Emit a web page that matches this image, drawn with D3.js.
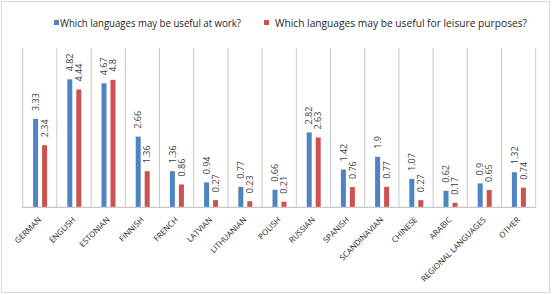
<!DOCTYPE html>
<html>
<head>
<meta charset="utf-8">
<script src="https://cdn.jsdelivr.net/npm/d3@7"></script>
<style>
  html, body { margin: 0; padding: 0; background: #fff; }
  svg { display: block; font-family: "Open Sans", "Liberation Sans", sans-serif; }
</style>
</head>
<body>
<div id="container"></div>
<script>
const width = 552, height = 295;

// --- Data ---
const languages = ["GERMAN", "ENGLISH", "ESTONIAN", "FINNISH", "FRENCH", "LATVIAN", "LITHUANIAN",
  "POLISH", "RUSSIAN", "SPANISH", "SCANDINAVIAN", "CHINESE", "ARABIC", "REGIONAL LANGUAGES", "OTHER"];
const atWork = [3.33, 4.82, 4.67, 2.66, 1.36, 0.94, 0.77, 0.66, 2.82, 1.42, 1.9, 1.07, 0.62, 0.9, 1.32];
const forLeisure = [2.34, 4.44, 4.8, 1.36, 0.86, 0.27, 0.23, 0.21, 2.63, 0.76, 0.77, 0.27, 0.17, 0.65, 0.74];
const seriesNames = ["Which languages may be useful at work?", "Which languages may be useful for leisure purposes?"];
const colors = ["#4F84C4", "#CD514E"];

const plot = { left: 22.7, right: 535.7, top: 48, bottom: 207.3 };

const svg = d3.select("#container").append("svg")
  .attr("width", width).attr("height", height);

// outer frame
svg.append("rect")
  .attr("x", 1.5).attr("y", 1.5)
  .attr("width", width - 4).attr("height", height - 4)
  .attr("fill", "#fff").attr("stroke", "#d9d9d9").attr("stroke-width", 1);

// --- Scales ---
const x = d3.scaleBand().domain(languages).range([plot.left, plot.right]).padding(0);
const y = d3.scaleLinear().domain([0, 6]).range([plot.bottom, plot.top]);

// --- Vertical gridlines between categories ---
const edges = languages.map((d) => x(d)).concat([plot.right]);
svg.append("g").selectAll("line").data(edges).join("line")
  .attr("x1", (d) => d).attr("x2", (d) => d)
  .attr("y1", plot.top).attr("y2", plot.bottom + 0.5)
  .attr("stroke", "#c8c8c8").attr("stroke-width", 1);

// --- Bars ---
const barW = 5;
const offsets = [-6.7, 2.3];
const series = [atWork, forLeisure];
series.forEach((vals, s) => {
  const g = svg.append("g");
  g.selectAll("rect").data(vals).join("rect")
    .attr("x", (d, i) => x(languages[i]) + x.bandwidth() / 2 + offsets[s])
    .attr("y", (d) => y(d))
    .attr("width", barW)
    .attr("height", (d) => y(0) - y(d))
    .attr("fill", colors[s]);
  g.selectAll("text").data(vals).join("text")
    .attr("transform", (d, i) => {
      const cx = x(languages[i]) + x.bandwidth() / 2 + offsets[s] + barW / 2;
      return `translate(${cx},${y(d) - 8}) rotate(-90)`;
    })
    .attr("dy", "0.35em")
    .attr("fill", "#404040")
    .style("font-size", "9px")
    .text((d) => d);
});

// --- Baseline ---
svg.append("line")
  .attr("x1", plot.left).attr("x2", plot.right)
  .attr("y1", plot.bottom).attr("y2", plot.bottom)
  .attr("stroke", "#c8c8c8").attr("stroke-width", 1.2);

// --- Category labels ---
svg.append("g").selectAll("text").data(languages).join("text")
  .attr("transform", (d) => `translate(${x(d) + x.bandwidth() / 2 + 2},${plot.bottom + 13}) rotate(-45)`)
  .attr("text-anchor", "end")
  .attr("fill", "#262626")
  .style("font-size", "8px")
  .text((d) => d);

// --- Legend ---
const legend = [
  { sx: 54, tx: 60, len: 181 },
  { sx: 264, tx: 275, len: 252 },
];
legend.forEach((l, i) => {
  svg.append("rect")
    .attr("x", l.sx).attr("y", 20)
    .attr("width", 5).attr("height", 5)
    .attr("fill", colors[i]);
  svg.append("text")
    .attr("x", l.tx).attr("y", 26.5)
    .attr("fill", "#262626")
    .attr("textLength", l.len)
    .attr("lengthAdjust", "spacingAndGlyphs")
    .style("font-size", "11px")
    .text(seriesNames[i]);
});
</script>
</body>
</html>
